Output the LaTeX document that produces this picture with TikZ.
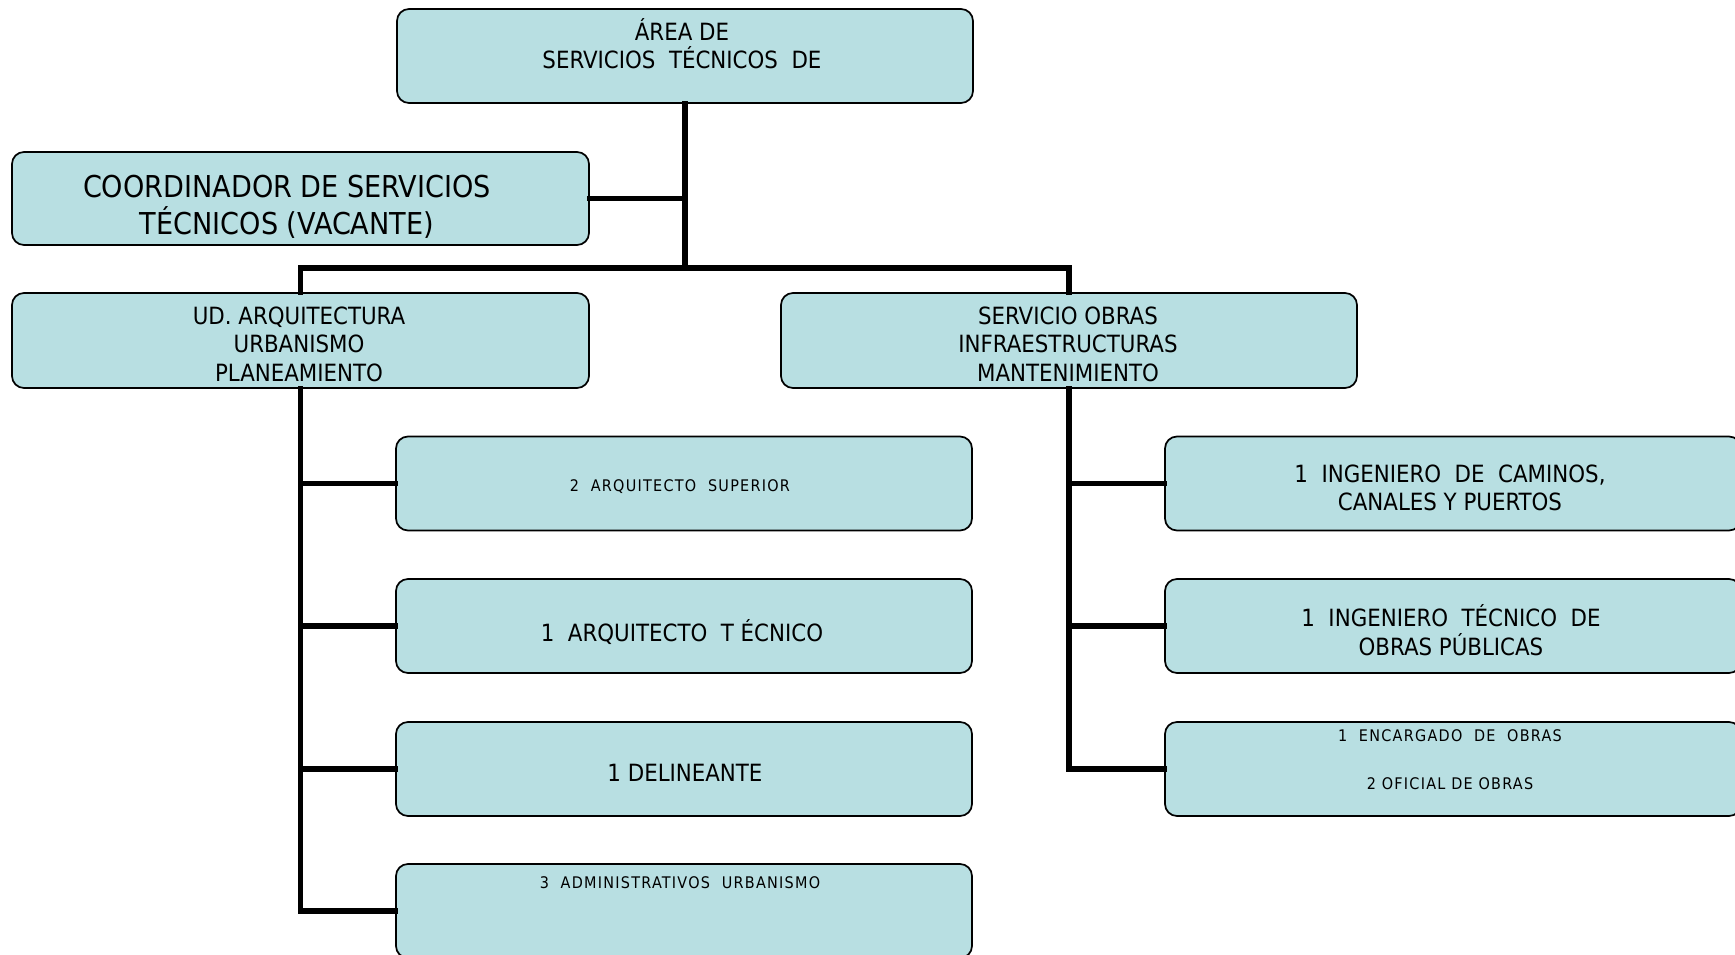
\documentclass[tikz,border=0pt]{standalone}
\usepackage{fontspec}
\setmainfont{DejaVu Sans Condensed}
\definecolor{boxfill}{HTML}{B8DFE2}
\tikzset{
  orgbox/.style={draw=black, line width=1.3pt, fill=boxfill, rounded corners=9pt,
    minimum width=576*0.75pt, minimum height=94*0.75pt, inner sep=0pt},
  conn/.style={line width=3.9pt, line cap=rect},
  big/.style={align=center, font=\fontsize{22.6}{27.4}\selectfont, inner sep=0pt},
  med/.style={align=center, font=\fontsize{17.8}{21.3}\selectfont, inner sep=0pt},
  small/.style={align=center, font=\fontsize{12}{36}\selectfont\addfontfeature{LetterSpace=8}, inner sep=0pt}
}
\begin{document}
\begin{tikzpicture}[x=0.75pt, y=-0.75pt]
\useasboundingbox (0,0) rectangle (1735,955);
\clip (0,0) rectangle (1735,955);
% boxes
\node[orgbox] (top) at (685,56) {};
\node[orgbox, minimum width=577*0.75pt, minimum height=93*0.75pt] (coord) at (300.5,198.5) {};
\node[orgbox, minimum width=577*0.75pt, minimum height=95*0.75pt] (ud) at (300.5,340.5) {};
\node[orgbox, minimum height=95*0.75pt] (serv) at (1069,340.5) {};
\node[orgbox] (l1) at (684,483.5) {};
\node[orgbox] (l2) at (684,626) {};
\node[orgbox] (l3) at (684,769) {};
\node[orgbox] (l4) at (684,911) {};
\node[orgbox] (r1) at (1453,483.5) {};
\node[orgbox] (r2) at (1453,626) {};
\node[orgbox] (r3) at (1453,769) {};
% texts
\node[med] (ttop) at (682,43.5) {ÁREA DE\\SERVICIOS\ \ TÉCNICOS\ \ DE};
\node[big] (tcoord) at (287,207) {COORDINADOR DE SERVICIOS\\TÉCNICOS (VACANTE)};
\node[med] (tud) at (299,344) {UD. ARQUITECTURA\\URBANISMO\\PLANEAMIENTO};
\node[med] (tserv) at (1068,344) {SERVICIO OBRAS\\INFRAESTRUCTURAS\\MANTENIMIENTO};
\node[small] (tl1) at (680,487) {2\ \ ARQUITECTO\ \ SUPERIOR};
\node[med] (tl2) at (682,632) {1\ \ ARQUITECTO\ \ T ÉCNICO};
\node[med] (tl3) at (685,773) {1 DELINEANTE};
\node[small] (tl4) at (680,883) {3\ \ ADMINISTRATIVOS\ \ URBANISMO};
\node[med] (tr1) at (1450,488) {1\ \ INGENIERO\ \ DE\ \ CAMINOS,\\CANALES Y PUERTOS};
\node[med] (tr2) at (1451,630) {1\ \ INGENIERO\ \ TÉCNICO\ \ DE\\OBRAS PÚBLICAS};
\node[small] (tr3) at (1450,760) {1\ \ ENCARGADO\ \ DE\ \ OBRAS\\2 OFICIAL DE OBRAS};
% connectors
\coordinate (hub) at (top.south |- 0,268);
\draw[conn] (top.south) -- (hub);
\draw[conn] (coord.east) -- (coord.east -| hub);
\draw[conn] (ud.north) |- (hub) -| (serv.north);
\draw[conn] (ud.south) |- (l4.west);
\draw[conn] (ud.south |- l1.west) -- (l1.west);
\draw[conn] (ud.south |- l2.west) -- (l2.west);
\draw[conn] (ud.south |- l3.west) -- (l3.west);
\draw[conn] (serv.south) |- (r3.west);
\draw[conn] (serv.south |- r1.west) -- (r1.west);
\draw[conn] (serv.south |- r2.west) -- (r2.west);
\end{tikzpicture}
\end{document}
